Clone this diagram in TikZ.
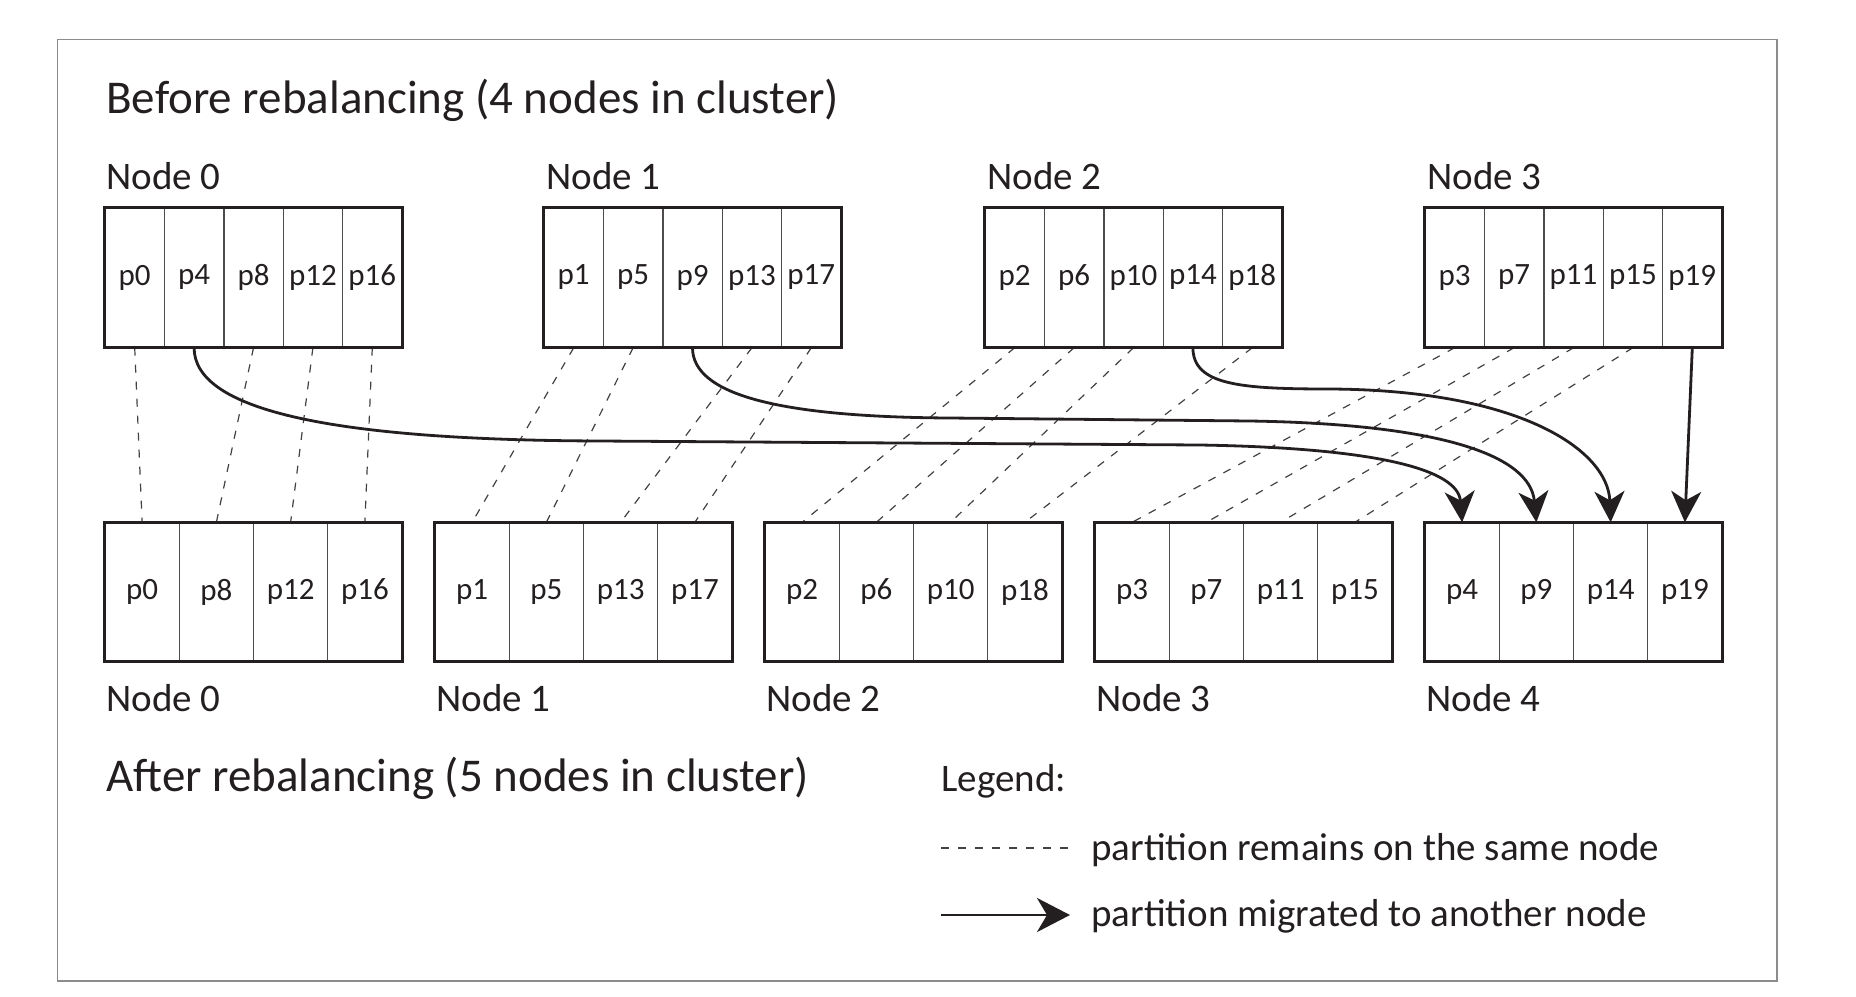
\documentclass[tikz,border=0pt]{standalone}
\usepackage{fontspec}
\setmainfont{Carlito}
\usetikzlibrary{arrows.meta,fit}
\definecolor{ink}{HTML}{231F20}
\begin{document}
\begin{tikzpicture}[x=0.5pt,y=-0.5pt,
  cellT/.style={draw=ink!80, line width=0.7pt, minimum width=29.7pt, minimum height=69.5pt, inner sep=0pt, font=\fontsize{15.5}{18}\selectfont, text=ink},
  cellB/.style={cellT, minimum width=37.125pt, minimum height=69pt},
  boxframe/.style={draw=ink, line width=1.5pt, inner sep=0pt},
  lbl/.style={anchor=base west, inner sep=0pt, text=ink, font=\fontsize{19.5}{23}\selectfont},
  ttl/.style={lbl, font=\fontsize{23.5}{28}\selectfont},
  stay/.style={draw=ink!85, line width=0.6pt, dash pattern=on 4pt off 4.5pt},
  move/.style={draw=ink, line width=1.4pt, -{Stealth[length=15.5pt,width=15pt,inset=4.5pt]}},
]
\fill[white] (0,0) rectangle (1856,996);
\useasboundingbox (0,0) rectangle (1856,996);
\draw[draw=black!45, line width=0.8pt] (57.4,39.3) rectangle (1777,981);

% titles and labels
\node[ttl] (before) at (106,113) {Before rebalancing (4 nodes in cluster)};
\node[lbl] (ln0) at (106,189) {Node 0};
\node[lbl] (ln1) at (546,189) {Node 1};
\node[lbl] (ln2) at (987,189) {Node 2};
\node[lbl] (ln3) at (1427,189) {Node 3};
\node[lbl] (lb0) at (106,711) {Node 0};
\node[lbl] (lb1) at (436,711) {Node 1};
\node[lbl] (lb2) at (766,711) {Node 2};
\node[lbl] (lb3) at (1096,711) {Node 3};
\node[lbl] (lb4) at (1426,711) {Node 4};
\node[ttl] (after) at (106,791) {After rebalancing (5 nodes in cluster)};
\node[lbl] (legend) at (941,791) {Legend:};
\node[lbl] (lt1) at (1091,860) {partition remains on the same node};
\node[lbl] (lt2) at (1091,926) {partition migrated to another node};

% top cells
\foreach \n/\x in {0/105,1/544,2/985,3/1425}{
  \foreach \k in {0,...,4}{
    \pgfmathtruncatemacro\p{\n+4*\k}
    \node[cellT] (t\p) at ({\x+59.4*(\k+0.5)},277.5) {p\p};
  }
}
% bottom cells
\foreach \x/\l in {105/{0,8,12,16},435/{1,5,13,17},765/{2,6,10,18},1095/{3,7,11,15},1425/{4,9,14,19}}{
  \foreach \p [count=\k from 0] in \l{
    \node[cellB] (b\p) at ({\x+74.25*(\k+0.5)},592) {p\p};
  }
}

% partitions that stay
\foreach \p in {0,8,12,16,1,5,13,17,2,6,10,18,3,7,11,15}{
  \draw[stay] (t\p.south) -- (b\p.north);
}

% migrated partitions
\draw[move] (t4.south) .. controls (194.1,410) and (330,440) .. (600,441)
  -- (1200,445) .. controls (1380,448) and (1458,470) .. (b4.north);
\draw[move] (t9.south) .. controls (692.5,395) and (780,417) .. (950,418)
  -- (1250,421) .. controls (1440,424) and (1530,455) .. (b9.north);
\draw[move] (t14.south) .. controls (1193,385) and (1240,389) .. (1330,389)
  .. controls (1520,390) and (1608,450) .. (b14.north);
\draw[move] (t19.south) -- (b19.north);

% boxes
\node[boxframe, fit=(t0)(t16)] (top0) {};
\node[boxframe, fit=(t1)(t17)] (top1) {};
\node[boxframe, fit=(t2)(t18)] (top2) {};
\node[boxframe, fit=(t3)(t19)] (top3) {};
\node[boxframe, fit=(b0)(b16)] (bot0) {};
\node[boxframe, fit=(b1)(b17)] (bot1) {};
\node[boxframe, fit=(b2)(b18)] (bot2) {};
\node[boxframe, fit=(b3)(b15)] (bot3) {};
\node[boxframe, fit=(b4)(b19)] (bot4) {};

% legend
\coordinate (ls1) at (941,848);
\coordinate (ls2) at (1070,848);
\draw[stay] (ls1) -- (ls2);
\coordinate (lm1) at (941,915);
\coordinate (lm2) at (1070,915);
\draw[move, -{Stealth[length=16.5pt,width=17pt,inset=5pt]}] (lm1) -- (lm2);
\end{tikzpicture}
\end{document}
